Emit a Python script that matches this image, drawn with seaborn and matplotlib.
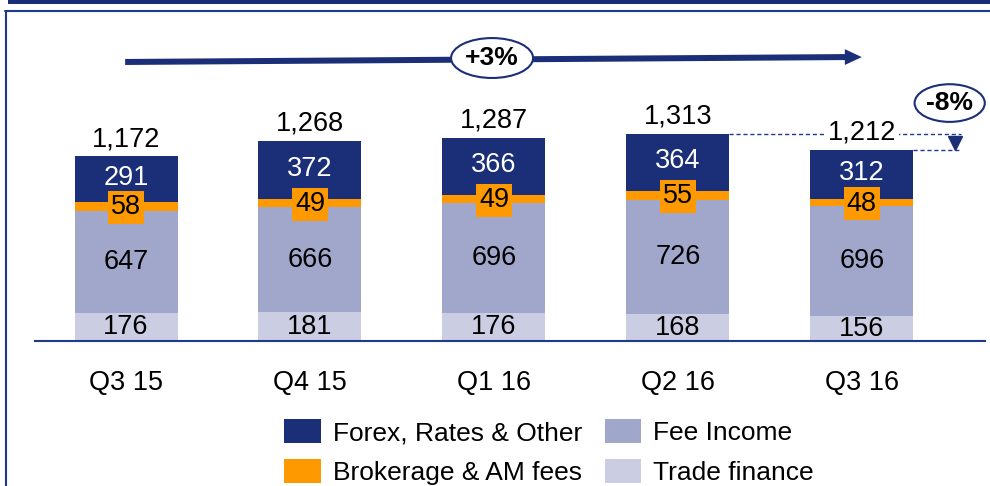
import matplotlib
matplotlib.use("Agg")
import matplotlib.pyplot as plt
from matplotlib.patches import Patch, Polygon, Rectangle
from matplotlib.lines import Line2D
import seaborn as sns
import pandas as pd

categories = ["Q3 15", "Q4 15", "Q1 16", "Q2 16", "Q3 16"]
forex = [291, 372, 366, 364, 312]
brokerage = [58, 49, 49, 55, 48]
fee_income = [647, 666, 696, 726, 696]
trade_finance = [176, 181, 176, 168, 156]
series_names = ["Forex, Rates & Other", "Brokerage & AM fees", "Fee Income", "Trade finance"]
growth_label = "+3%"
drop_label = "-8%"

NAVY = "#1B2E78"
ORANGE = "#FF9900"
FEE = "#A1A6CB"
TRADE = "#CBCDE3"
LINE = "#1F3A8A"

sns.set_theme(style="white")
plt.rcParams["font.family"] = ["Liberation Sans", "DejaVu Sans"]
plt.rcParams["text.color"] = "black"

totals = [a + b + c + d for a, b, c, d in zip(forex, brokerage, fee_income, trade_finance)]
lvl3 = [b + c + d for b, c, d in zip(brokerage, fee_income, trade_finance)]
lvl2 = [c + d for c, d in zip(fee_income, trade_finance)]
df = pd.DataFrame({"cat": categories, "total": totals, "lvl3": lvl3, "lvl2": lvl2,
                   "trade": trade_finance})

fig = plt.figure(figsize=(9.9, 4.86), dpi=100)
ax = fig.add_axes([35 / 990, (486 - 341) / 486, 950 / 990, (341 - 10) / 486])

W = 0.56
for col, color in [("total", NAVY), ("lvl3", ORANGE), ("lvl2", FEE), ("trade", TRADE)]:
    sns.barplot(data=df, x="cat", y=col, order=categories, color=color,
                width=W, saturation=1, ax=ax, linewidth=0, zorder=2)

ax.set_xlim(-0.495, 4.67)
ax.set_ylim(0, 331 / 0.158)
ax.set_xlabel("")
ax.set_ylabel("")
ax.set_yticks([])
for s in ["top", "right", "left"]:
    ax.spines[s].set_visible(False)
ax.spines["bottom"].set_color(LINE)
ax.spines["bottom"].set_linewidth(1.5)
ax.spines["bottom"].set_zorder(3)
ax.tick_params(axis="x", length=0, pad=21, labelsize=19.5, colors="black")

fs = 19.5
for i in range(len(categories)):
    t = trade_finance[i]
    f = fee_income[i]
    b = brokerage[i]
    x = forex[i]
    ax.text(i, t / 2, f"{t}", ha="center", va="center", fontsize=fs, color="black", zorder=4)
    ax.text(i, t + f / 2, f"{f}", ha="center", va="center", fontsize=fs, color="black", zorder=4)
    ax.text(i, t + f + b / 2 - 6, f"{b}", ha="center", va="center", fontsize=fs, color="black", zorder=5,
            bbox=dict(boxstyle="square,pad=0.12", fc=ORANGE, ec="none"))
    ax.text(i, t + f + b + x / 2 + 8, f"{x}", ha="center", va="center", fontsize=fs, color="white", zorder=4)
    ax.annotate(f"{totals[i]:,}", (i, totals[i]), xytext=(0, 7), textcoords="offset points",
                ha="center", va="baseline", fontsize=fs, color="black", zorder=6,
                bbox=dict(boxstyle="square,pad=0.1", fc="white", ec="none") if i == 4 else None)

# growth arrow
y0, y1 = 1766, 1797
h = 19
arrow = Polygon([(-0.005, y0 + h), (3.908, y1 + h), (3.908, y1 + 50), (4.0, y1),
                 (3.908, y1 - 50), (3.908, y1 - h), (-0.005, y0 - h)],
                closed=True, fc=NAVY, ec="none", zorder=3)
ax.add_patch(arrow)
ax.text(1.99, 1791, growth_label, ha="center", va="center", fontsize=19, fontweight="bold",
        zorder=7, bbox=dict(boxstyle="ellipse,pad=0.08", fc="white", ec=NAVY, lw=1.5))

# drop indicator
ax.plot([3 + W / 2, 4.54], [totals[3], totals[3]], ls=(0, (3, 2)), color=LINE, lw=1, zorder=3)
ax.plot([4 + W / 2, 4.54], [totals[4], totals[4]], ls=(0, (3, 2)), color=LINE, lw=1, zorder=3)
ax.plot([4.505], [totals[4] + 40], marker="v", markersize=10, color=NAVY, zorder=4)
ax.text(4.478, 1506, drop_label, ha="center", va="center", fontsize=19, fontweight="bold",
        zorder=7, bbox=dict(boxstyle="ellipse,pad=0.05", fc="white", ec=NAVY, lw=1.5))

# legend
handles = [Patch(fc=c, ec="none") for c in [NAVY, ORANGE, FEE, TRADE]]
fig.legend(handles, series_names, ncol=2, loc="upper left",
           bbox_to_anchor=(284 / 990, (486 - 419) / 486), frameon=False, labelcolor="black",
           fontsize=19, handlelength=1.4, handleheight=1.05, handletextpad=0.45,
           columnspacing=0.85, labelspacing=0.52, borderpad=0, borderaxespad=0)

# frame
fig.add_artist(Rectangle((8 / 990, (486 - 4) / 486), 1, 4 / 486, transform=fig.transFigure,
                         fc=NAVY, ec="none"))
fig.add_artist(Line2D([5 / 990, 1], [(486 - 11) / 486] * 2, transform=fig.transFigure,
                      color=LINE, lw=1.5))
fig.add_artist(Line2D([5.5 / 990] * 2, [0, (486 - 11) / 486], transform=fig.transFigure,
                      color=LINE, lw=1.5))

fig.savefig("out.png", dpi=100)
